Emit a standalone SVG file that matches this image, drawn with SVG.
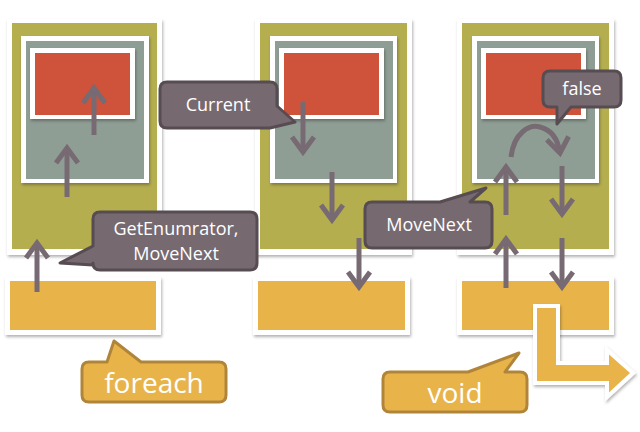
<svg xmlns="http://www.w3.org/2000/svg" width="640" height="432" viewBox="0 0 640 432">
<defs>
<filter id="sh" x="-10%" y="-10%" width="130%" height="130%">
<feDropShadow dx="1" dy="2" stdDeviation="1.5" flood-color="#000" flood-opacity="0.3"/>
</filter>
<marker id="ah" markerUnits="userSpaceOnUse" viewBox="-20 -15 24 30" refX="0" refY="0" markerWidth="24" markerHeight="30" orient="auto">
<path d="M-15,-11 L0,0 L-15,11" fill="none" stroke="#776A72" stroke-width="5" stroke-linejoin="miter"/>
</marker>
</defs>
<style>
.frame{fill:#fff;filter:url(#sh)}
.olive{fill:#B5AE4F}
.gray{fill:#8F9E94}
.red{fill:#CF523B}
.yel{fill:#E8B44A}
.arr{fill:none;stroke:#776A72;stroke-width:5;marker-end:url(#ah)}
.call{fill:#766A70;stroke:#574C52;stroke-width:3;stroke-linejoin:round}
.ycall{fill:#E8B44A;stroke:#B0853A;stroke-width:3;stroke-linejoin:round}
.ct{font-family:'Open Sans','Noto Sans',sans-serif;font-size:18px;fill:#fff;text-anchor:middle}
.yt{font-family:'Open Sans','Noto Sans',sans-serif;font-size:28px;fill:#fff;text-anchor:middle}
</style>
<rect width="640" height="432" fill="#fff"/>

<g id="panel1">
<rect class="frame" x="7" y="19" width="155" height="236"/>
<rect class="olive" x="12" y="23" width="145" height="226"/>
<rect class="frame" x="21" y="36" width="128" height="147"/>
<rect class="gray" x="26" y="41" width="118" height="138"/>
<rect class="frame" x="30" y="48" width="105" height="71"/>
<rect class="red" x="35" y="53" width="95" height="62"/>
</g>
<g id="panel2">
<rect class="frame" x="255" y="19" width="157" height="236"/>
<rect class="olive" x="260" y="23" width="147" height="226"/>
<rect class="frame" x="270" y="36" width="127" height="147"/>
<rect class="gray" x="275" y="41" width="118" height="138"/>
<rect class="frame" x="279" y="48" width="105" height="71"/>
<rect class="red" x="284" y="53" width="95" height="62"/>
</g>
<g id="panel3">
<rect class="frame" x="457" y="19" width="157" height="236"/>
<rect class="olive" x="462" y="23" width="147" height="226"/>
<rect class="frame" x="472" y="36" width="127" height="147"/>
<rect class="gray" x="477" y="41" width="118" height="138"/>
<rect class="frame" x="481" y="48" width="105" height="71"/>
<rect class="red" x="486" y="53" width="95" height="62"/>
</g>
<g id="base1">
<rect class="frame" x="5" y="277" width="156" height="58"/>
<rect class="yel" x="10" y="281" width="146" height="49"/>
</g>
<g id="base2">
<rect class="frame" x="253" y="277" width="157" height="58"/>
<rect class="yel" x="258" y="281" width="147" height="49"/>
</g>
<g id="base3">
<rect class="frame" x="457" y="277" width="157" height="58"/>
<rect class="yel" x="462" y="281" width="147" height="49"/>
</g>

<g id="connectors">
<line class="arr" x1="37" y1="292" x2="37" y2="243"/>
<line class="arr" x1="67" y1="197" x2="67" y2="148"/>
<line class="arr" x1="94" y1="135" x2="94" y2="88"/>
<line class="arr" x1="303" y1="102" x2="303" y2="152"/>
<line class="arr" x1="332" y1="172" x2="332" y2="220"/>
<line class="arr" x1="359" y1="238" x2="359" y2="287"/>
<line class="arr" x1="506" y1="288" x2="506" y2="239"/>
<line class="arr" x1="506" y1="215" x2="506" y2="167"/>
<line class="arr" x1="562" y1="166" x2="562" y2="214"/>
<line class="arr" x1="562" y1="238" x2="562" y2="287"/>
<path class="arr" d="M511,157 C514,132 530,124 540,127 C552,130 558,140 560,153"/>
</g>

<g id="bent-arrow">
<path d="M535,306 L558,306 L558,363 L607,363 L607,350 L633,373 L607,397 L607,383 L535,383 Z" fill="#E8B44A" stroke="#fff" stroke-width="4" stroke-linejoin="miter" filter="url(#sh)"/>
</g>

<g id="callout-getenum">
<path class="call" d="M100,212 L250,212 Q257,212 257,219 L257,263 Q257,270 250,270 L100,270 Q93,270 93,263 L93,265 L60,263 L93,246 L93,219 Q93,212 100,212 Z"/>
<text class="ct" x="176" y="235">GetEnumrator,</text>
<text class="ct" x="176" y="260">MoveNext</text>
</g>
<g id="callout-current">
<path class="call" d="M167,82 L270,82 Q277,82 277,89 L277,106 L295,122 L270,128 L167,128 Q160,128 160,121 L160,89 Q160,82 167,82 Z"/>
<text class="ct" x="218" y="111">Current</text>
</g>
<g id="callout-movenext">
<path class="call" d="M372,202 L440,202 L486,188 L470,202 L485,202 Q492,202 492,209 L492,241 Q492,248 485,248 L372,248 Q365,248 365,241 L365,209 Q365,202 372,202 Z"/>
<text class="ct" x="429" y="231">MoveNext</text>
</g>
<g id="callout-false">
<path class="call" d="M550,71 L614,71 Q621,71 621,78 L621,100 Q621,107 614,107 L571,107 L557,124 L557,107 L550,107 Q543,107 543,100 L543,78 Q543,71 550,71 Z"/>
<text class="ct" x="582" y="95">false</text>
</g>
<g id="callout-foreach">
<path class="ycall" d="M89,362 L107,362 L114,341 L141,362 L219,362 Q226,362 226,369 L226,395 Q226,402 219,402 L89,402 Q82,402 82,395 L82,369 Q82,362 89,362 Z"/>
<text class="yt" x="154" y="393">foreach</text>
</g>
<g id="callout-void">
<path class="ycall" d="M390,372 L468,372 L519,353 L505,372 L520,372 Q527,372 527,379 L527,405 Q527,412 520,412 L390,412 Q383,412 383,405 L383,379 Q383,372 390,372 Z"/>
<text class="yt" x="455" y="403">void</text>
</g>
</svg>
